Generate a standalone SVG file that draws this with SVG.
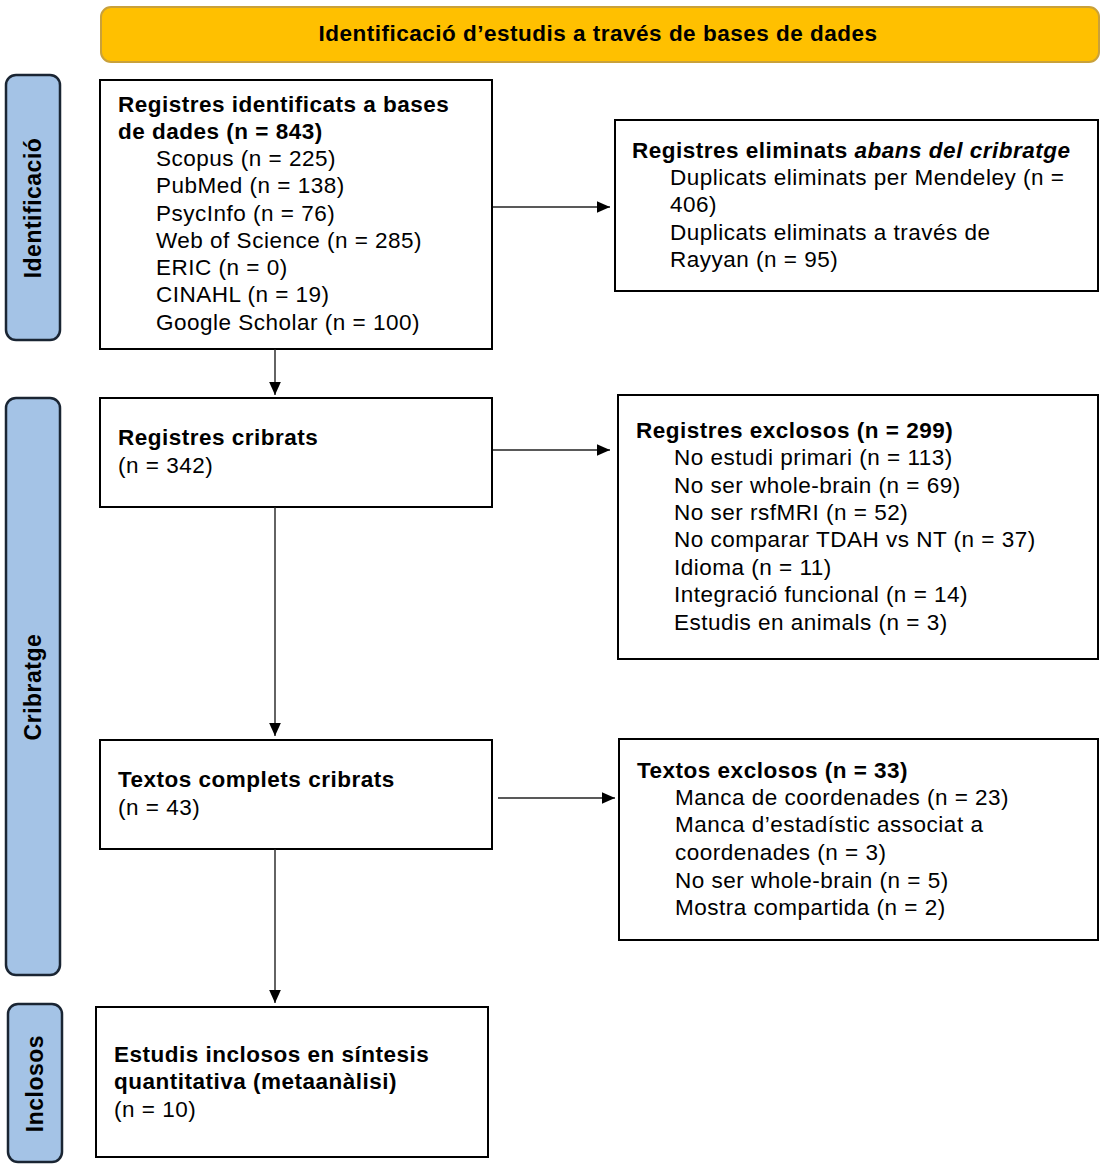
<svg xmlns="http://www.w3.org/2000/svg" width="1104" height="1172" viewBox="0 0 1104 1172">
<style>
text{font-family:"Liberation Sans",Arial,sans-serif;fill:#000;letter-spacing:0.5px}
.box{fill:#fff;stroke:#000;stroke-width:2}
.side{fill:#A4C3E6;stroke:#1a2533;stroke-width:2.5}
.h{font-size:22.5px;font-weight:bold}
.t{font-size:22.5px}
.sl{font-size:23px;font-weight:bold}
.ban{font-size:22.5px;font-weight:bold}
.conn{stroke:#222;stroke-width:1.4;fill:none;marker-end:url(#ah)}
</style>
<defs>
<marker id="ah" viewBox="0 0 10 10" refX="10" refY="5" markerWidth="13" markerHeight="13" markerUnits="userSpaceOnUse" orient="auto">
<path d="M0,0.5 L10,5 L0,9.5 z" fill="#000"/>
</marker>
</defs>
<rect width="1104" height="1172" fill="#fff"/>
<g id="banner">
<rect x="101" y="7" width="998" height="55" rx="10" fill="#FFC000" stroke="#C9A13A" stroke-width="2"/>
<text class="ban" x="598" y="41" text-anchor="middle">Identificació d’estudis a través de bases de dades</text>
</g>
<g id="side-identificacio">
<rect class="side" x="6" y="75" width="54" height="265" rx="10"/>
<text class="sl" transform="translate(41,208) rotate(-90)" text-anchor="middle">Identificació</text>
</g>
<g id="side-cribratge">
<rect class="side" x="6" y="398" width="54" height="577" rx="10"/>
<text class="sl" transform="translate(41,687) rotate(-90)" text-anchor="middle">Cribratge</text>
</g>
<g id="side-inclosos">
<rect class="side" x="8" y="1004" width="54" height="158" rx="10"/>
<text class="sl" transform="translate(43,1083.5) rotate(-90)" text-anchor="middle">Inclosos</text>
</g>
<g id="n1">
<rect class="box" x="100" y="80" width="392" height="269"/>
<text class="h" x="118" y="112">Registres identificats a bases</text>
<text class="h" x="118" y="139">de dades (n = 843)</text>
<text class="t" x="156" y="166">Scopus (n = 225)</text>
<text class="t" x="156" y="193">PubMed (n = 138)</text>
<text class="t" x="156" y="221">PsycInfo (n = 76)</text>
<text class="t" x="156" y="248">Web of Science (n = 285)</text>
<text class="t" x="156" y="275">ERIC (n = 0)</text>
<text class="t" x="156" y="302">CINAHL (n = 19)</text>
<text class="t" x="156" y="330">Google Scholar (n = 100)</text>
</g>
<g id="n2">
<rect class="box" x="615" y="120" width="483" height="171"/>
<text class="h" x="632" y="158">Registres eliminats <tspan font-style="italic">abans del cribratge</tspan></text>
<text class="t" x="670" y="185">Duplicats eliminats per Mendeley (n =</text>
<text class="t" x="670" y="212">406)</text>
<text class="t" x="670" y="240">Duplicats eliminats a través de</text>
<text class="t" x="670" y="267">Rayyan (n = 95)</text>
</g>
<g id="n3">
<rect class="box" x="100" y="398" width="392" height="109"/>
<text class="h" x="118" y="445">Registres cribrats</text>
<text class="t" x="118" y="473">(n = 342)</text>
</g>
<g id="n4">
<rect class="box" x="618" y="395" width="480" height="264"/>
<text class="h" x="636" y="438">Registres exclosos (n = 299)</text>
<text class="t" x="674" y="465">No estudi primari (n = 113)</text>
<text class="t" x="674" y="493">No ser whole-brain (n = 69)</text>
<text class="t" x="674" y="520">No ser rsfMRI (n = 52)</text>
<text class="t" x="674" y="547">No comparar TDAH vs NT (n = 37)</text>
<text class="t" x="674" y="575">Idioma (n = 11)</text>
<text class="t" x="674" y="602">Integració funcional (n = 14)</text>
<text class="t" x="674" y="630">Estudis en animals (n = 3)</text>
</g>
<g id="n5">
<rect class="box" x="100" y="740" width="392" height="109"/>
<text class="h" x="118" y="787">Textos complets cribrats</text>
<text class="t" x="118" y="815">(n = 43)</text>
</g>
<g id="n6">
<rect class="box" x="619" y="739" width="479" height="201"/>
<text class="h" x="637" y="778">Textos exclosos (n = 33)</text>
<text class="t" x="675" y="805">Manca de coordenades (n = 23)</text>
<text class="t" x="675" y="832">Manca d’estadístic associat a</text>
<text class="t" x="675" y="860">coordenades (n = 3)</text>
<text class="t" x="675" y="888">No ser whole-brain (n = 5)</text>
<text class="t" x="675" y="915">Mostra compartida (n = 2)</text>
</g>
<g id="n7">
<rect class="box" x="96" y="1007" width="392" height="150"/>
<text class="h" x="114" y="1062">Estudis inclosos en síntesis</text>
<text class="h" x="114" y="1089">quantitativa (metaanàlisi)</text>
<text class="t" x="114" y="1117">(n = 10)</text>
</g>
<g id="connectors">
<line class="conn" x1="493" y1="207" x2="610" y2="207"/>
<line class="conn" x1="493" y1="450" x2="610" y2="450"/>
<line class="conn" x1="498" y1="798" x2="615" y2="798"/>
<line class="conn" x1="275" y1="349" x2="275" y2="395"/>
<line class="conn" x1="275" y1="507" x2="275" y2="736"/>
<line class="conn" x1="275" y1="849" x2="275" y2="1003"/>
</g>
</svg>
